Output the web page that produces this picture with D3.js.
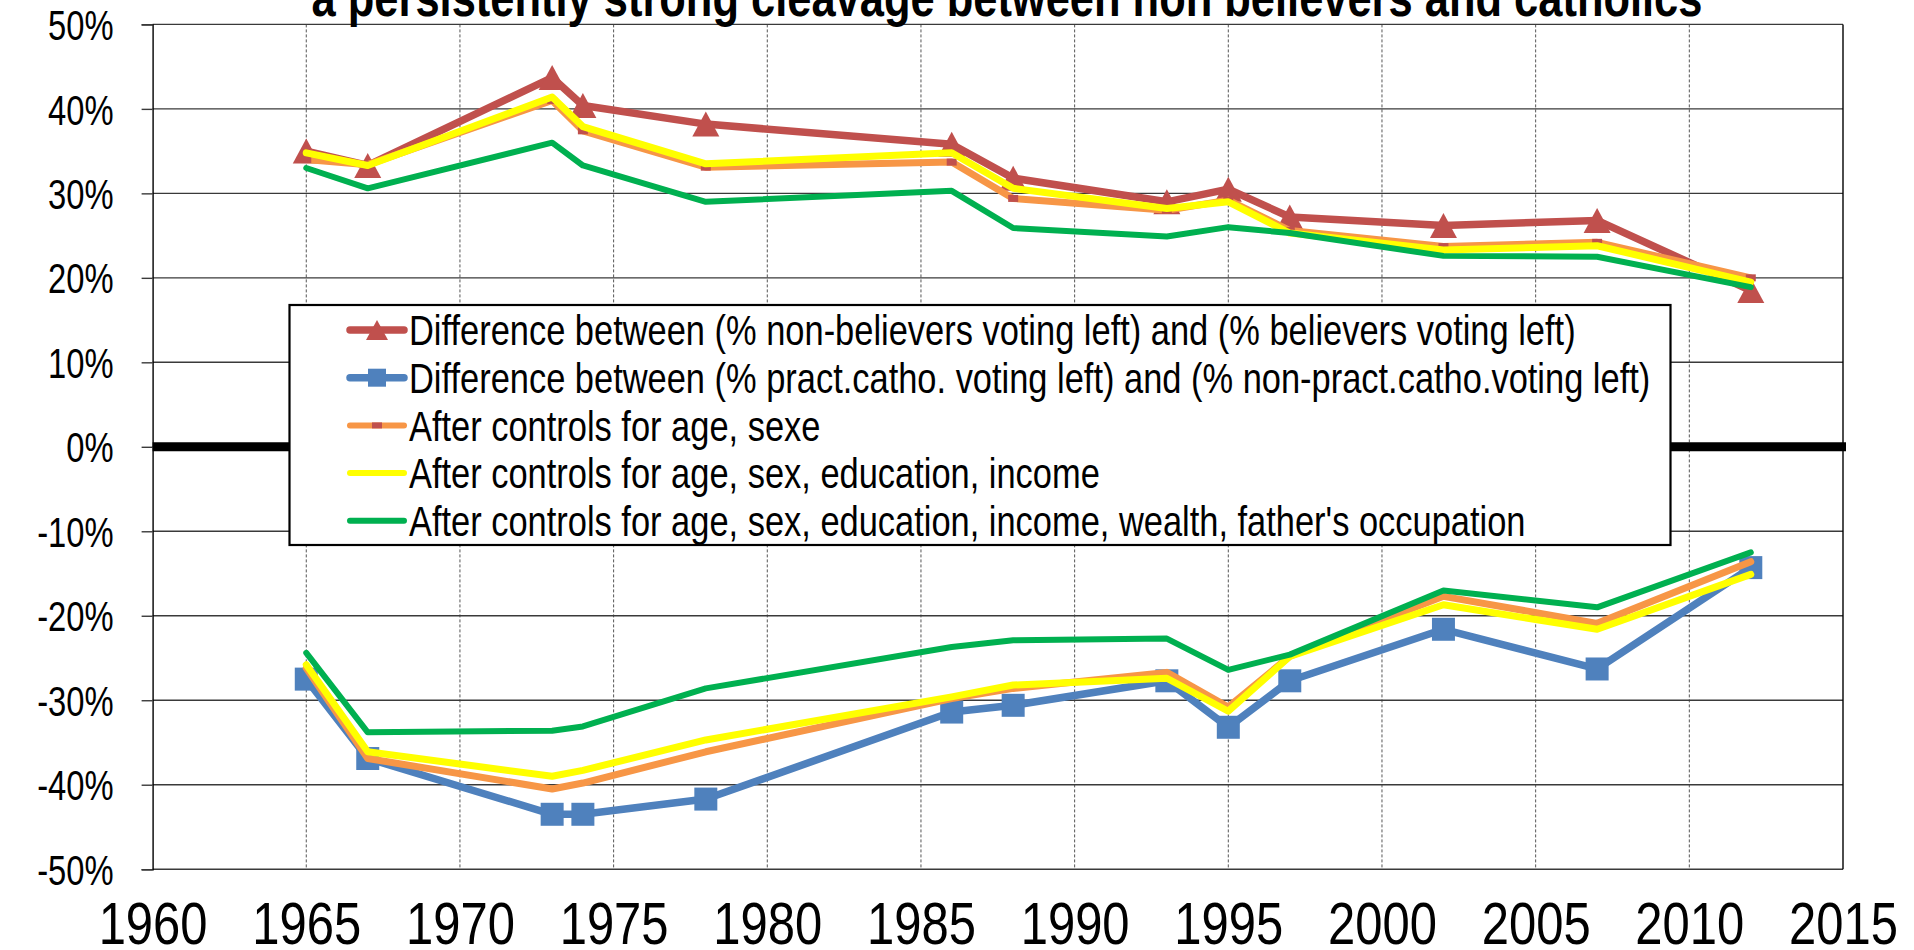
<!DOCTYPE html>
<html>
<head>
<meta charset="utf-8">
<script src="https://cdn.jsdelivr.net/npm/d3@7"></script>
<style>
  body { margin: 0; background: #fff; }
  svg { display: block; }
  text { font-family: "Liberation Sans Narrow", "Arial Narrow", "Liberation Sans", Arial, sans-serif; fill: #000; }
</style>
</head>
<body>
<svg id="chart" width="1914" height="950"></svg>
<script>
// Election years
const years = [1965, 1967, 1973, 1974, 1978, 1986, 1988, 1993, 1995, 1997, 2002, 2007, 2012];

// Non-believers vs believers, % voting left (difference, points)
const nonBelieversDiff = [35.0, 33.3, 43.7, 40.4, 38.2, 35.8, 31.8, 29.0, 30.5, 27.2, 26.2, 26.8, 18.5];
const nbAgeSex        = [34.0, 33.4, 41.0, 37.4, 33.1, 33.7, 29.4, 28.0, 29.2, 25.6, 23.7, 24.2, 20.0];
const nbAgeSexEduInc  = [34.8, 33.3, 41.4, 37.9, 33.5, 34.8, 30.6, 28.2, 29.0, 25.3, 23.3, 23.8, 19.5];
const nbAllControls   = [33.0, 30.6, 36.0, 33.3, 29.0, 30.3, 25.9, 24.9, 26.0, 25.3, 22.6, 22.5, 18.9];

// Practising vs non-practising catholics, % voting left (difference, points)
const practCathoDiff  = [-27.5, -36.9, -43.5, -43.5, -41.7, -31.4, -30.6, -27.7, -33.2, -27.7, -21.6, -26.3, -14.3];
const pcAgeSex        = [-26.2, -36.9, -40.5, -39.8, -36.1, -29.8, -28.6, -26.7, -30.8, -24.8, -17.7, -20.9, -13.6];
const pcAgeSexEduInc  = [-25.8, -36.1, -39.0, -38.3, -34.7, -29.6, -28.2, -27.4, -31.3, -24.8, -18.7, -21.6, -15.1];
const pcAllControls   = [-24.4, -33.8, -33.6, -33.1, -28.6, -23.7, -22.9, -22.7, -26.4, -24.6, -17.0, -19.0, -12.5];

// Axis ticks
const xTickValues = [1960, 1965, 1970, 1975, 1980, 1985, 1990, 1995, 2000, 2005, 2010, 2015];
const yTickValues = [-50, -40, -30, -20, -10, 0, 10, 20, 30, 40, 50];

// Legend labels
const legendLabels = [
  "Difference between (% non-believers voting left) and (% believers voting left)",
  "Difference between (% pract.catho. voting left) and (% non-pract.catho.voting left)",
  "After controls for age, sexe",
  "After controls for age, sex, education, income",
  "After controls for age, sex, education, income, wealth, father's occupation"
];

const titleText = "a persistently strong cleavage between non believers and catholics";

const C = { red: "#C0504D", blue: "#4F81BD", orange: "#F79646", yellow: "#FFFF00", green: "#00B050" };

// Condensed look: squeeze text horizontally around its anchor point
const NARROW = 0.82;
function condense(sel, sx = NARROW) {
  sel.each(function () {
    const t = d3.select(this);
    const tx = +t.attr("x") || 0, ty = +t.attr("y") || 0;
    t.attr("x", 0).attr("y", 0).attr("transform", `translate(${tx},${ty}) scale(${sx},1)`);
  });
}

const svg = d3.select("#chart");
const plot = { left: 152.6, right: 1843, top: 24.4, bottom: 869.2 };

const x = d3.scaleLinear().domain([1960, 2015]).range([plot.left, plot.right]);
const y = d3.scaleLinear().domain([-50, 50]).range([plot.bottom, plot.top]);

// Vertical dashed gridlines
svg.append("g").selectAll("line")
  .data(xTickValues.filter(d => d > 1960 && d < 2015))
  .join("line")
  .attr("x1", d => x(d)).attr("x2", d => x(d))
  .attr("y1", plot.top).attr("y2", plot.bottom)
  .attr("stroke", "#555").attr("stroke-width", 1)
  .attr("stroke-dasharray", "3,2");

// Horizontal gridlines
svg.append("g").selectAll("line")
  .data(yTickValues)
  .join("line")
  .attr("x1", plot.left).attr("x2", plot.right)
  .attr("y1", d => y(d)).attr("y2", d => y(d))
  .attr("stroke", "#3a3a3a").attr("stroke-width", 1.4);

// Right border
svg.append("line")
  .attr("x1", plot.right).attr("x2", plot.right)
  .attr("y1", plot.top).attr("y2", plot.bottom)
  .attr("stroke", "#000").attr("stroke-width", 1.4);

// Y axis
const yAxis = d3.axisLeft(y).tickValues(yTickValues).tickFormat(d => d + "%").tickSize(11);
const gy = svg.append("g").attr("transform", `translate(${plot.left},0)`).call(yAxis);
gy.select(".domain").attr("stroke", "#000").attr("stroke-width", 1.4);
gy.selectAll(".tick line").attr("stroke", "#3a3a3a").attr("stroke-width", 1.4);
gy.selectAll(".tick text")
  .attr("font-size", 42).attr("dy", "0.36em").attr("x", -39).attr("y", 0)
  .style("font-family", null)
  .call(condense, 0.78);

// X axis labels
const xAxis = d3.axisBottom(x).tickValues(xTickValues).tickFormat(d3.format("d")).tickSize(0);
const gx = svg.append("g").attr("transform", `translate(0,${plot.bottom})`).call(xAxis);
gx.select(".domain").remove();
gx.selectAll(".tick text")
  .attr("font-size", 59).attr("dy", null).attr("x", 0).attr("y", 944 - plot.bottom)
  .style("font-family", null)
  .call(condense, 0.83);

// Zero line
svg.append("line")
  .attr("x1", plot.left).attr("x2", plot.right + 3)
  .attr("y1", y(0)).attr("y2", y(0))
  .attr("stroke", "#000").attr("stroke-width", 9);

const line = d3.line()
  .x((d, i) => x(years[i]))
  .y(d => y(d));

function drawLine(values, color, width) {
  svg.append("path")
    .datum(values)
    .attr("d", line)
    .attr("fill", "none")
    .attr("stroke", color)
    .attr("stroke-width", width)
    .attr("stroke-linejoin", "round")
    .attr("stroke-linecap", "round");
}

const triPath = (w, h) => `M0,${-h / 2}L${w / 2},${h / 2}L${-w / 2},${h / 2}Z`;
const sqPath = (s) => `M${-s / 2},${-s / 2}h${s}v${s}h${-s}Z`;
const dashPath = (w, h) => `M${-w / 2},${-h / 2}h${w}v${h}h${-w}Z`;

function drawMarkers(values, pathStr, color) {
  svg.append("g").selectAll("path")
    .data(values)
    .join("path")
    .attr("d", pathStr)
    .attr("transform", (d, i) => `translate(${x(years[i])},${y(d)})`)
    .attr("fill", color);
}

// Series, drawn in legend order
drawLine(nonBelieversDiff, C.red, 7.5);
drawMarkers(nonBelieversDiff, triPath(27, 25), C.red);

drawLine(practCathoDiff, C.blue, 7.5);
drawMarkers(practCathoDiff, sqPath(23), C.blue);

drawLine(nbAgeSex, C.orange, 7);
drawMarkers(nbAgeSex, dashPath(10, 7), C.red);
drawLine(pcAgeSex, C.orange, 7);

drawLine(nbAgeSexEduInc, C.yellow, 7);
drawLine(pcAgeSexEduInc, C.yellow, 7);

drawLine(nbAllControls, C.green, 6);
drawLine(pcAllControls, C.green, 6);

// Legend
const lg = { x: 289.5, y: 305, w: 1381, h: 240 };
const legend = svg.append("g");
legend.append("rect")
  .attr("x", lg.x).attr("y", lg.y).attr("width", lg.w).attr("height", lg.h)
  .attr("fill", "#fff").attr("stroke", "#000").attr("stroke-width", 2.2);

const legendStyle = [
  { color: C.red, width: 7.5, marker: triPath(22, 20), mColor: C.red },
  { color: C.blue, width: 7.5, marker: sqPath(18), mColor: C.blue },
  { color: C.orange, width: 6, marker: dashPath(10, 6), mColor: C.red },
  { color: C.yellow, width: 6, marker: null },
  { color: C.green, width: 6, marker: null }
];

const rowY = i => 330 + i * 47.7;
const row = legend.selectAll("g.row")
  .data(legendLabels)
  .join("g").attr("class", "row")
  .attr("transform", (d, i) => `translate(0,${rowY(i)})`);

row.append("line")
  .attr("x1", 350).attr("x2", 404)
  .attr("y1", 0).attr("y2", 0)
  .attr("stroke", (d, i) => legendStyle[i].color)
  .attr("stroke-width", (d, i) => legendStyle[i].width)
  .attr("stroke-linecap", "round");

row.filter((d, i) => legendStyle[i].marker)
  .append("path")
  .attr("d", d => legendStyle[legendLabels.indexOf(d)].marker)
  .attr("transform", "translate(377,0)")
  .attr("fill", d => legendStyle[legendLabels.indexOf(d)].mColor);

row.append("text")
  .attr("x", 409).attr("y", 0).attr("dy", "0.36em")
  .attr("font-size", 42)
  .text(d => d)
  .call(condense);

// Title (runs off the top edge)
svg.append("text")
  .attr("x", 1007).attr("y", 16)
  .attr("text-anchor", "middle")
  .attr("font-size", 53).attr("font-weight", "bold")
  .text(titleText)
  .call(condense);
</script>
</body>
</html>
